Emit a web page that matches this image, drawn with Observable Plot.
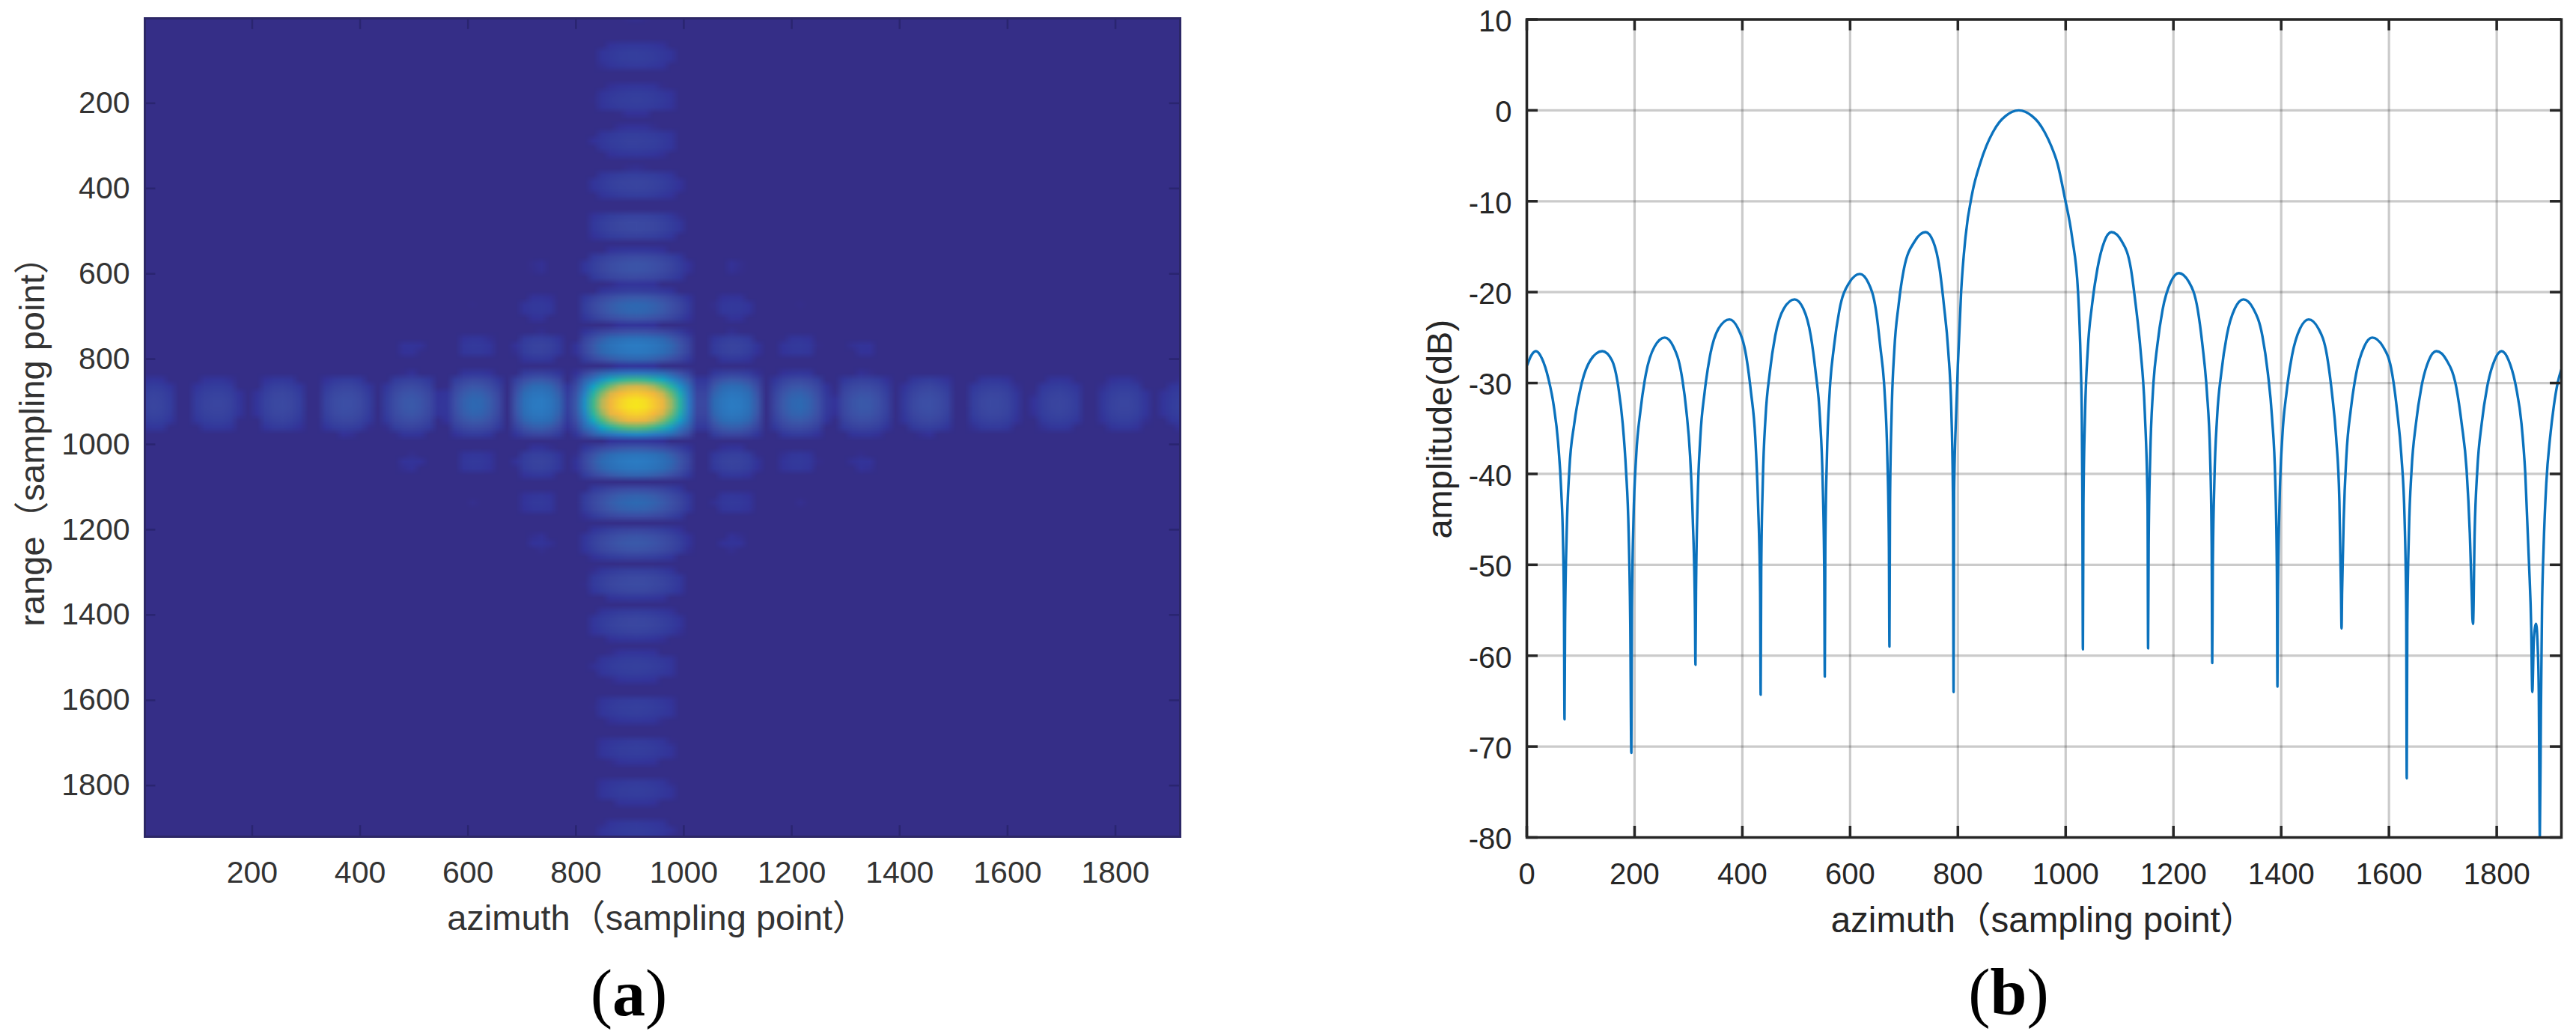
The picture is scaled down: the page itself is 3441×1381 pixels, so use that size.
<!DOCTYPE html>
<html>
<head>
<meta charset="utf-8">
<script src="https://cdn.jsdelivr.net/npm/d3@7"></script>
<script src="https://cdn.jsdelivr.net/npm/@observablehq/plot@0.6"></script>
<style>
html,body{margin:0;padding:0;background:#fff;width:3441px;height:1381px;overflow:hidden}
#a,#b{position:absolute;top:0}
#a{left:0}#b{left:1700px}
.cap{position:absolute;font-family:"Liberation Serif",serif;font-size:88px;line-height:88px;color:#000;transform:translate(-50%,-50%);white-space:nowrap}
</style>
</head>
<body>
<div id="a"></div><div id="b"></div>
<div class="cap" style="left:840px;top:1327px">(<b>a</b>)</div>
<div class="cap" style="left:2683px;top:1326px">(<b>b</b>)</div>
<script>
const xLabel = "azimuth（sampling point）";
const rangeLabel = "range（sampling point）";
const ampLabel = "amplitude(dB)";
const heatTicks = [200,400,600,800,1000,1200,1400,1600,1800];
const lineXTicks = [0,200,400,600,800,1000,1200,1400,1600,1800];
const lineYTicks = [10,0,-10,-20,-30,-40,-50,-60,-70,-80];

// Panel (b): amplitude profile
const azimuth = [
1,8,17,28,40,50,58,64,67,69,70,
71,74,79,88,100,118,140,158,170,178,184,189,192,194,
195,198,203,211,221,237,256,272,287,296,303,308,312,313,
314,317,322,330,340,356,376,392,407,416,424,429,433,434,
435,438,443,451,461,477,497,513,527,536,544,549,552,553,
554,557,562,570,580,598,618,634,648,656,664,669,672,673,
674,677,682,690,700,720,740,754,766,774,782,788,791,792,
793,797,800,806,814,827,841,853,865,877,889,901,913,925,937,949,961,973,985,998,1012,1023,1028,1030,1031,1032,
1033,1036,1041,1049,1059,1072,1085,1104,1121,1130,1139,1147,1152,1153,
1154,1157,1162,1170,1180,1195,1210,1229,1245,1254,1262,1268,1271,1272,
1273,1276,1281,1289,1299,1314,1330,1348,1365,1375,1383,1389,1392,1393,
1394,1397,1402,1410,1420,1435,1451,1469,1485,1494,1502,1508,1511,1512,
1513,1516,1521,1529,1539,1554,1569,1589,1606,1615,1623,1629,1632,1633,
1634,1637,1642,1650,1660,1674,1688,1707,1725,1735,1744,1750,1754,1755,
1756,1759,1764,1772,1782,1796,1809,1822,1836,1846,1853,1860,1864,1866,1869,1873,1876,1878,1880,1882,1884,1887,1892,1899,1906,1913,1920];
const amplitude = [
-28,-27,-26.5,-27.3,-29.5,-32.5,-36.5,-42,-47,-55,-67,
-56.5,-46.5,-39.5,-34.5,-30.5,-27.5,-26.5,-27.5,-30.5,-34.5,-39.5,-46.5,-56.5,-70.7,
-55,-45,-38,-33,-29,-26,-25,-26,-29,-33,-38,-45,-55,-61,
-53,-43,-36,-31,-27,-24,-23,-24,-27,-31,-36,-43,-53,-64.3,
-50.8,-40.8,-33.8,-28.8,-24.8,-21.8,-20.8,-21.8,-24.8,-28.8,-33.8,-40.8,-50.8,-62.3,
-48,-38,-31,-26,-22,-19,-18,-19,-22,-26,-31,-38,-48,-59,
-43.4,-33.4,-26.4,-21.4,-17.4,-14.4,-13.4,-14.4,-17.4,-21.4,-26.4,-33.4,-43.4,-64,
-42,-33,-28,-20,-14,-9,-5.9,-3.9,-2.4,-1.3,-0.6,-0.15,0,-0.15,-0.6,-1.3,-2.4,-3.9,-5.9,-9.5,-14,-20,-28,-34,-42,-59.3,
-43.4,-33.4,-26.4,-21.4,-17.4,-14.4,-13.4,-14.4,-17.4,-21.4,-26.4,-33.4,-43.4,-59.2,
-47.9,-37.9,-30.9,-25.9,-21.9,-18.9,-17.9,-18.9,-21.9,-25.9,-30.9,-37.9,-47.9,-60.8,
-50.8,-40.8,-33.8,-28.8,-24.8,-21.8,-20.8,-21.8,-24.8,-28.8,-33.8,-40.8,-50.8,-63.4,
-53,-43,-36,-31,-27,-24,-23,-24,-27,-31,-36,-43,-53,-57,
-53,-45,-38,-33,-29,-26,-25,-26,-29,-33,-38,-45,-55,-73.5,
-56.5,-46.5,-39.5,-34.5,-30.5,-27.5,-26.5,-27.5,-30.5,-34.5,-39.5,-46.5,-54,-56,
-56.5,-46.5,-39.5,-34.5,-30.5,-27.5,-26.5,-27.5,-30.5,-34.5,-40,-50,-57,-64,-58,-56.5,-59,-64,-80,-66,-55,-48,-41,-36,-32.5,-30,-28.5];

// Panel (a): intensity read along the horizontal band, one value every 16 samples
const azProfile = [
.04,.047,.043,.03,.008,.012,.029,.041,.046,.046,.038,.021,.002,.02,.04,.053,.056,.049,.034,.013,
.013,.04,.059,.069,.067,.054,.032,.004,.032,.064,.085,.09,.079,.055,.021,.023,.071,.107,.125,.121,
.096,.054,.004,.082,.155,.2,.208,.179,.118,.034,.09,.256,.436,.615,.775,.9,.977,1,.963,.873,
.737,.572,.391,.212,.052,.052,.128,.185,.21,.2,.158,.088,.006,.049,.092,.119,.126,.108,.074,.028,
.018,.053,.077,.089,.086,.068,.039,.003,.027,.051,.066,.07,.06,.041,.015,.011,.033,.048,.055,.053,
.043,.024,.002,.018,.033,.044,.047,.042,.03,.013,.006,.024,.039,.046,.046,.037,.022,.004,.02,.03,.037];
// Panel (a): intensity read along the vertical band, one value every 16 samples
const rangeProfile = [
.016,.014,.004,.008,.023,.032,.033,.026,.013,.004,.021,.031,.035,.03,.017,.002,.018,.032,.038,.034,
.022,.005,.016,.034,.045,.043,.031,.012,.015,.04,.054,.053,.038,.012,.023,.058,.078,.077,.057,.02,
.034,.091,.122,.119,.083,.02,.076,.166,.208,.193,.118,.02,.182,.424,.665,.863,.979,.992,.9,.723,
.485,.24,.023,.088,.174,.21,.187,.113,.01,.059,.107,.125,.109,.063,0,.045,.079,.09,.075,.038,
.006,.036,.056,.06,.05,.024,.006,.03,.047,.05,.041,.022,.002,.02,.032,.037,.032,.02,.002,.015,
.03,.035,.032,.021,.005,.013,.027,.033,.03,.02,.003,.014,.027,.033,.03,.019,.002,.013,.025,.03,.027];

const colorDomain = [0,.015,.0165,.02,.03,.047,.07,.09,.126,.21,.30,.40,.47,.6,.7,.8,.91,1];
const colorRange = ["#352e87","#352e87","#343298","#33359a","#343d9d","#3a46a0","#3c50a6","#3a5aaa","#2d6ab3","#2b7cc3","#12a5c4","#2fb59a","#58b878","#b4b65a","#e8b543","#f7b93a","#f6d52a","#f6e81c"];

const heat = rangeProfile.flatMap(r => azProfile.map(a => a * r));
const sans = '"Liberation Sans","Noto Sans CJK SC",sans-serif';
const plain = d => String(d);

const plotA = Plot.plot({
  width:1700, height:1381,
  marginLeft:193, marginRight:124, marginTop:24, marginBottom:264,
  style:{background:"transparent",overflow:"visible"},
  x:{domain:[1,1920]},
  y:{domain:[1,1920],reverse:true},
  color:{type:"linear",domain:colorDomain,range:colorRange,clamp:true},
  marks:[
    Plot.raster(heat,{width:azProfile.length,height:rangeProfile.length,x1:-8,x2:1928,y1:-8,y2:1928,fill:d=>d,clip:true}),
    Plot.ruleX(heatTicks,{y1:1,y2:27,stroke:"#2a2570",strokeWidth:2.5}),
    Plot.ruleX(heatTicks,{y1:1894,y2:1920,stroke:"#2a2570",strokeWidth:2.5}),
    Plot.ruleY(heatTicks,{x1:1,x2:21,stroke:"#2a2570",strokeWidth:2.5}),
    Plot.ruleY(heatTicks,{x1:1900,x2:1920,stroke:"#2a2570",strokeWidth:2.5}),
    Plot.frame({stroke:"#2c2766",strokeWidth:3}),
    Plot.axisX(heatTicks,{anchor:"bottom",label:null,tickSize:0,tickPadding:32,fontSize:41,fontFamily:sans,color:"#333",tickFormat:plain}),
    Plot.axisY(heatTicks,{anchor:"left",label:null,tickSize:0,tickPadding:20,fontSize:41,fontFamily:sans,color:"#333",tickFormat:plain}),
    Plot.text([xLabel],{text:d=>d,frameAnchor:"bottom",dx:-7,dy:124,fontSize:47,fontFamily:sans,fill:"#333"}),
    Plot.text([rangeLabel],{text:d=>d,frameAnchor:"left",textAnchor:"middle",dx:-150,dy:7,rotate:-90,fontSize:47,fontFamily:sans,fill:"#333"})
  ]
});
document.getElementById("a").appendChild(plotA);

const plotB = Plot.plot({
  width:1741, height:1381,
  marginLeft:339, marginRight:20, marginTop:25.5, marginBottom:263,
  style:{background:"transparent",overflow:"visible"},
  x:{domain:[0,1920]},
  y:{domain:[-80,10]},
  marks:[
    Plot.gridX(lineXTicks,{stroke:"#262626",strokeOpacity:.24,strokeWidth:3.2}),
    Plot.gridY(lineYTicks,{stroke:"#262626",strokeOpacity:.24,strokeWidth:3.2}),
    Plot.lineY(amplitude,{x:azimuth,stroke:"#0b72bd",strokeWidth:3.4,clip:true,curve:"monotone-x"}),
    Plot.ruleX(lineXTicks,{y1:-80,y2:-78.76,stroke:"#262626",strokeWidth:3.5}),
    Plot.ruleX(lineXTicks,{y1:10,y2:8.76,stroke:"#262626",strokeWidth:3.5}),
    Plot.ruleY(lineYTicks,{x1:0,x2:20.8,stroke:"#262626",strokeWidth:3.5}),
    Plot.ruleY(lineYTicks,{x1:1899.2,x2:1920,stroke:"#262626",strokeWidth:3.5}),
    Plot.frame({stroke:"#262626",strokeWidth:3.5}),
    Plot.axisX(lineXTicks,{anchor:"bottom",label:null,tickSize:0,tickPadding:34,fontSize:40,fontFamily:sans,color:"#262626",tickFormat:plain}),
    Plot.axisY(lineYTicks,{anchor:"left",label:null,tickSize:0,tickPadding:20,fontSize:40,fontFamily:sans,color:"#262626",tickFormat:plain,dy:3}),
    Plot.text([xLabel],{text:d=>d,frameAnchor:"bottom",dx:-1,dy:126,fontSize:47.5,fontFamily:sans,fill:"#262626"}),
    Plot.text([ampLabel],{text:d=>d,frameAnchor:"left",textAnchor:"middle",dx:-116,dy:1,rotate:-90,fontSize:47,fontFamily:sans,fill:"#262626"})
  ]
});
document.getElementById("b").appendChild(plotB);
</script>
</body>
</html>
